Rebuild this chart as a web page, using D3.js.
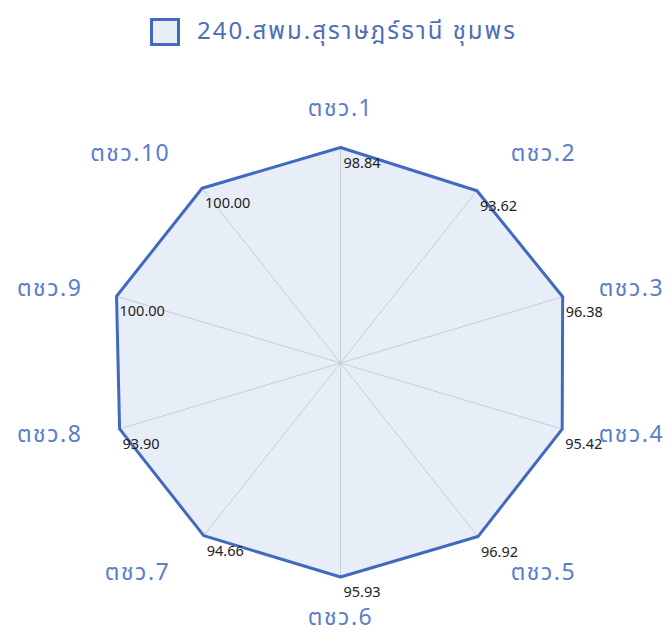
<!DOCTYPE html>
<html>
<head>
<meta charset="utf-8">
<script src="https://cdn.jsdelivr.net/npm/d3@7"></script>
<style>
  body { margin: 0; background: #fff; }
  text { font-family: "Noto Sans Thai", "Noto Sans", sans-serif; }
</style>
</head>
<body>
<svg id="radar" width="669" height="631"></svg>
<script>
// data
var seriesName = "240.สพม.สุราษฎร์ธานี ชุมพร";
var categories = ["ตชว.1", "ตชว.2", "ตชว.3", "ตชว.4", "ตชว.5",
                  "ตชว.6", "ตชว.7", "ตชว.8", "ตชว.9", "ตชว.10"];
var values = [98.84, 93.62, 96.38, 95.42, 96.92, 95.93, 94.66, 93.90, 100.00, 100.00];

var svg = d3.select("#radar");

// plot centre and outer radii (the plot is a little wider than tall)
var cx = 340.5, cy = 363,
    rx = 235.5, ry = 216;

var lineColor = "#4169bd",
    fillColor = "rgba(68,114,196,0.12)";

// radial scale
var r = d3.scaleLog().domain([1, 100]).range([0, 1]);

// angle for each category, starting at the top, clockwise
var angle = d3.scalePoint()
    .domain(categories)
    .range([0, 2 * Math.PI * (categories.length - 1) / categories.length]);

function px(cat, v) { return cx + rx * r(v) * Math.sin(angle(cat)); }
function py(cat, v) { return cy - ry * r(v) * Math.cos(angle(cat)); }

// spokes
svg.append("g")
  .selectAll("line")
  .data(categories)
  .enter().append("line")
    .attr("x1", cx).attr("y1", cy)
    .attr("x2", function(d) { return px(d, 100); })
    .attr("y2", function(d) { return py(d, 100); })
    .attr("stroke", "#dadada")
    .attr("stroke-width", 1);

// the area
var points = categories.map(function(c, i) { return [px(c, values[i]), py(c, values[i])]; });

svg.append("path")
    .datum(points)
    .attr("d", d3.line().curve(d3.curveLinearClosed))
    .attr("fill", fillColor)
    .attr("stroke", lineColor)
    .attr("stroke-width", 3)
    .attr("stroke-linejoin", "round");

// value labels
svg.append("g")
  .selectAll("text")
  .data(categories)
  .enter().append("text")
    .attr("x", function(d, i) { return px(d, values[i]) + 3; })
    .attr("y", function(d, i) { return py(d, values[i]) + 16; })
    .attr("dominant-baseline", "middle")
    .attr("font-family", "DejaVu Sans, sans-serif")
    .attr("font-size", 14.5)
    .attr("fill", "#222")
    .text(function(d, i) { return d3.format(".2f")(values[i]); });

// category labels
var lx = 242, ly = 236;
svg.append("g")
  .selectAll("text")
  .data(categories)
  .enter().append("text")
    .attr("x", function(d) {
      var s = Math.sin(angle(d));
      if (Math.abs(s) < 0.01) return cx;
      return cx + lx * s + (s > 0 ? 28 : -28);
    })
    .attr("y", function(d) {
      var c = Math.cos(angle(d));
      var y = cy - ly * c;
      if (c > 0.5) y -= 17;
      if (c < -0.5) y += 20;
      return y;
    })
    .attr("text-anchor", function(d) {
      var s = Math.sin(angle(d));
      return Math.abs(s) < 0.01 ? "middle" : (s > 0 ? "start" : "end");
    })
    .attr("dominant-baseline", "middle")
    .attr("font-size", 23)
    .attr("letter-spacing", 1.5)
    .attr("fill", "#5a7ecb")
    .text(function(d) { return d; });

// legend
var legend = svg.append("g");
legend.append("rect")
    .attr("x", 151.5).attr("y", 19.5)
    .attr("width", 27).attr("height", 25)
    .attr("fill", fillColor)
    .attr("stroke", lineColor)
    .attr("stroke-width", 3);
legend.append("text")
    .attr("x", 197).attr("y", 32)
    .attr("dominant-baseline", "middle")
    .attr("font-size", 24)
    .attr("letter-spacing", 2)
    .attr("fill", "#4d6fb5")
    .text(seriesName);
</script>
</body>
</html>
